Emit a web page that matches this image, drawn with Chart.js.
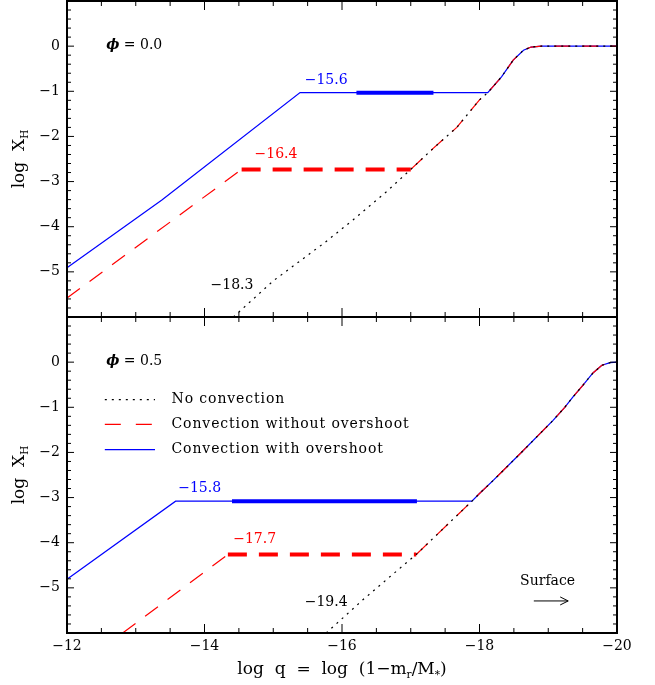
<!DOCTYPE html>
<html>
<head>
<meta charset="utf-8">
<script src="https://cdn.jsdelivr.net/npm/chart.js@4.4.1/dist/chart.umd.min.js"></script>
<style>
  body { margin: 0; background: #fff; }
  #wrap { position: relative; width: 655px; height: 685px; }
  canvas { position: absolute; left: 0; }
  #top { top: 0; }
  #bottom { top: 316px; }
</style>
</head>
<body>
<div id="wrap">
  <canvas id="top" width="655" height="318"></canvas>
  <canvas id="bottom" width="655" height="369"></canvas>
</div>
<script>
// log q on x, log X_H on y

// phi = 0.0
var noConvQ0 = [-14.42, -15.0, -15.75, -16.16, -16.65, -17.0, -17.33, -17.67, -18.0, -18.12, -18.32, -18.49, -18.64, -18.75, -18.9, -20.0];
var noConvX0 = [-6.0, -5.2, -4.35, -3.85, -3.22, -2.73, -2.26, -1.80, -1.19, -1.03, -0.68, -0.31, -0.09, -0.02, 0.0, 0.0];
var convQ0 = [-12.0, -14.54, -17.0];
var convX0 = [-5.58, -2.73, -2.73];
var overQ0 = [-12.0, -13.38, -15.39, -18.12];
var overX0 = [-4.91, -3.41, -1.03, -1.03];
var blueThick0 = [-16.21, -17.33];
var redThick0 = [-14.54, -17.0];

// phi = 0.5
var noConvQ1 = [-15.77, -16.3, -16.7, -17.08, -17.89, -18.0, -18.2, -18.59, -19.07, -19.24, -19.36, -19.5, -19.65, -19.78, -19.9, -20.0];
var noConvX1 = [-6.0, -5.27, -4.75, -4.26, -3.08, -2.91, -2.62, -2.03, -1.29, -1.0, -0.77, -0.52, -0.24, -0.07, -0.01, 0.0];
var convQ1 = [-12.81, -14.34, -17.08];
var convX1 = [-6.0, -4.26, -4.26];
var overQ1 = [-12.0, -13.58, -17.89];
var overX1 = [-4.81, -3.08, -3.08];
var blueThick1 = [-14.40, -17.09];
var redThick1 = [-14.34, -17.08];

var xTicks = [-12, -14, -16, -18, -20];
var yTicks = [0, -1, -2, -3, -4, -5];

var FONT = '"DejaVu Serif", serif';
var BLUE = "#0000ff", RED = "#ff0000";

var notes0 = [
  { text: "\u221215.6", q: -15.77, v: -0.75, color: BLUE },
  { text: "\u221216.4", q: -15.04, v: -2.39, color: RED },
  { text: "\u221218.3", q: -14.40, v: -5.31, color: "#000" }
];
var notes1 = [
  { text: "\u221215.8", q: -13.93, v: -2.79, color: BLUE },
  { text: "\u221217.7", q: -14.73, v: -3.93, color: RED },
  { text: "\u221219.4", q: -15.77, v: -5.32, color: "#000" }
];

function pts(qs, xs) {
  return qs.map(function (q, i) { return { x: q, y: xs[i] }; });
}
// the part of the no-convection profile beyond the junction
function tail(qs, xs, from) {
  var out = [];
  qs.forEach(function (q, i) { if (q <= from) out.push({ x: q, y: xs[i] }); });
  return out;
}
function minus(v) { return String(v).replace("-", "\u2212"); }

function panelSets(noQ, noX, cQ, cX, oQ, oX, bThick, rThick) {
  var oLast = oQ.length - 1;
  var blue = pts(oQ, oX).concat(tail(noQ, noX, oQ[oLast]).slice(1));
  return [
    { data: pts(noQ, noX), borderColor: "#000", borderWidth: 1.2, borderDash: [2, 5], order: 1 },
    { data: [{ x: rThick[0], y: cX[1] }, { x: rThick[1], y: cX[1] }], borderColor: RED, borderWidth: 4, borderDash: [19, 12], order: 2 },
    { data: pts(cQ.slice(0, 2), cX.slice(0, 2)), borderColor: RED, borderWidth: 1.2, borderDash: [16, 12], order: 3 },
    { data: tail(noQ, noX, cQ[2]), borderColor: RED, borderWidth: 1.2, borderDash: [16, 12], order: 3 },
    { data: [{ x: bThick[0], y: oX[oLast] }, { x: bThick[1], y: oX[oLast] }], borderColor: BLUE, borderWidth: 4, order: 4 },
    { data: blue, borderColor: BLUE, borderWidth: 1.2, order: 5 }
  ];
}

function richText(ctx, parts, x, y, size, align) {
  var w = 0;
  parts.forEach(function (p) {
    ctx.font = (p.font || "") + " " + (p.sub ? size * 0.62 : size) + "px " + FONT;
    w += ctx.measureText(p.t).width;
  });
  var cx = align === "center" ? x - w / 2 : x;
  ctx.textAlign = "left";
  parts.forEach(function (p) {
    ctx.font = (p.font || "") + " " + (p.sub ? size * 0.62 : size) + "px " + FONT;
    ctx.fillText(p.t, cx, y + (p.sub ? size * 0.32 : 0));
    cx += ctx.measureText(p.t).width;
  });
}

function framePlugin(panel) {
  return {
    id: "frame" + panel.id,
    afterDatasetsDraw: function (chart) {
      var ctx = chart.ctx, a = chart.chartArea, x = chart.scales.x, y = chart.scales.y;
      ctx.save();
      ctx.strokeStyle = "#000";
      ctx.lineWidth = 1;
      ctx.beginPath();
      for (var i = 0; i <= 35; i++) {
        var py = y.getPixelForValue(-6 + i / 5);
        var len = i % 5 === 0 ? 7 : 4;
        ctx.moveTo(a.left, py); ctx.lineTo(a.left + len, py);
        ctx.moveTo(a.right, py); ctx.lineTo(a.right - len, py);
      }
      for (var j = 0; j <= 16; j++) {
        var px = x.getPixelForValue(-12 - j / 2);
        var l2 = j % 4 === 0 ? 9 : 5;
        ctx.moveTo(px, a.top); ctx.lineTo(px, a.top + l2);
        ctx.moveTo(px, a.bottom); ctx.lineTo(px, a.bottom - l2);
      }
      ctx.stroke();
      ctx.lineWidth = 2;
      ctx.strokeRect(a.left, a.top, a.right - a.left, a.bottom - a.top);

      ctx.textBaseline = "middle";
      ctx.font = "14px " + FONT;
      panel.notes.forEach(function (n) {
        ctx.fillStyle = n.color;
        ctx.textAlign = "center";
        ctx.fillText(n.text, x.getPixelForValue(n.q), y.getPixelForValue(n.v));
      });

      ctx.fillStyle = "#000";
      richText(ctx, [{ t: "\u03d5", font: "italic bold" }, { t: " = " + panel.phi }],
        x.getPixelForValue(-12.57), y.getPixelForValue(0.02), 14, "left");

      // y title
      ctx.save();
      ctx.translate(20, (a.top + a.bottom) / 2);
      ctx.rotate(-Math.PI / 2);
      richText(ctx, [{ t: "log  X" }, { t: "H", sub: true }], 0, 0, 17, "center");
      ctx.restore();

      if (panel.legend) {
        var rows = [
          { label: "No convection", color: "#000", dash: [2, 5], v: -0.83 },
          { label: "Convection without overshoot", color: RED, dash: [16, 15], v: -1.38 },
          { label: "Convection with overshoot", color: BLUE, dash: [], v: -1.94 }
        ];
        rows.forEach(function (r) {
          var ly = y.getPixelForValue(r.v);
          ctx.strokeStyle = r.color;
          ctx.lineWidth = 1.2;
          ctx.setLineDash(r.dash);
          ctx.beginPath();
          ctx.moveTo(x.getPixelForValue(-12.55), ly);
          ctx.lineTo(x.getPixelForValue(-13.28), ly);
          ctx.stroke();
          ctx.setLineDash([]);
          ctx.fillStyle = "#000";
          ctx.textAlign = "left";
          ctx.font = "14px " + FONT;
          ctx.letterSpacing = "0.9px";
          ctx.fillText(r.label, x.getPixelForValue(-13.52), ly);
          ctx.letterSpacing = "0px";
        });

        ctx.textAlign = "center";
        ctx.fillText("Surface", x.getPixelForValue(-18.99), y.getPixelForValue(-4.85));
        var ay = y.getPixelForValue(-5.29);
        var ax0 = x.getPixelForValue(-18.79), ax1 = x.getPixelForValue(-19.29);
        ctx.strokeStyle = "#000";
        ctx.lineWidth = 1;
        ctx.beginPath();
        ctx.moveTo(ax0, ay); ctx.lineTo(ax1, ay);
        ctx.moveTo(ax1 - 8, ay - 4); ctx.lineTo(ax1, ay); ctx.lineTo(ax1 - 8, ay + 4);
        ctx.stroke();

        // x title
        richText(ctx, [{ t: "log  q  =  log  (1\u2212m" }, { t: "r", sub: true }, { t: "/M" }, { t: "*", sub: true }, { t: ")" }],
          342, chart.height - 15, 17, "center");
      }
      ctx.restore();
    }
  };
}

function makeChart(id, sets, panel) {
  var showX = !!panel.legend;
  return new Chart(document.getElementById(id), {
    type: "line",
    data: { datasets: sets },
    options: {
      responsive: false,
      animation: false,
      events: [],
      layout: { padding: { top: 1, right: 38, left: 0, bottom: 0 } },
      elements: { point: { radius: 0 }, line: { tension: 0, fill: false } },
      plugins: { legend: { display: false }, tooltip: { enabled: false } },
      scales: {
        x: {
          type: "linear", min: -20, max: -12, reverse: true,
          grid: { display: false, drawTicks: false }, border: { display: false },
          afterBuildTicks: function (s) { s.ticks = xTicks.map(function (v) { return { value: v }; }); },
          ticks: { display: showX, padding: 5, color: "#000", font: { family: FONT, size: 14 }, maxRotation: 0, autoSkip: false, callback: minus },
          afterFit: function (s) {
            s.height = showX ? 52 : 1;
            s.paddingLeft = 0; s.paddingRight = 0; s.paddingTop = 0; s.paddingBottom = 0;
          }
        },
        y: {
          min: -6, max: 1,
          grid: { display: false, drawTicks: false }, border: { display: false },
          afterBuildTicks: function (s) { s.ticks = yTicks.map(function (v) { return { value: v }; }); },
          ticks: { padding: 7, color: "#000", font: { family: FONT, size: 14 }, callback: minus },
          afterFit: function (s) {
            s.width = 67;
            s.paddingLeft = 0; s.paddingRight = 0; s.paddingTop = 0; s.paddingBottom = 0;
          }
        }
      }
    },
    plugins: [framePlugin(panel)]
  });
}

makeChart("top",
  panelSets(noConvQ0, noConvX0, convQ0, convX0, overQ0, overX0, blueThick0, redThick0),
  { id: 0, notes: notes0, phi: "0.0", legend: false });

makeChart("bottom",
  panelSets(noConvQ1, noConvX1, convQ1, convX1, overQ1, overX1, blueThick1, redThick1),
  { id: 1, notes: notes1, phi: "0.5", legend: true });
</script>
</body>
</html>
